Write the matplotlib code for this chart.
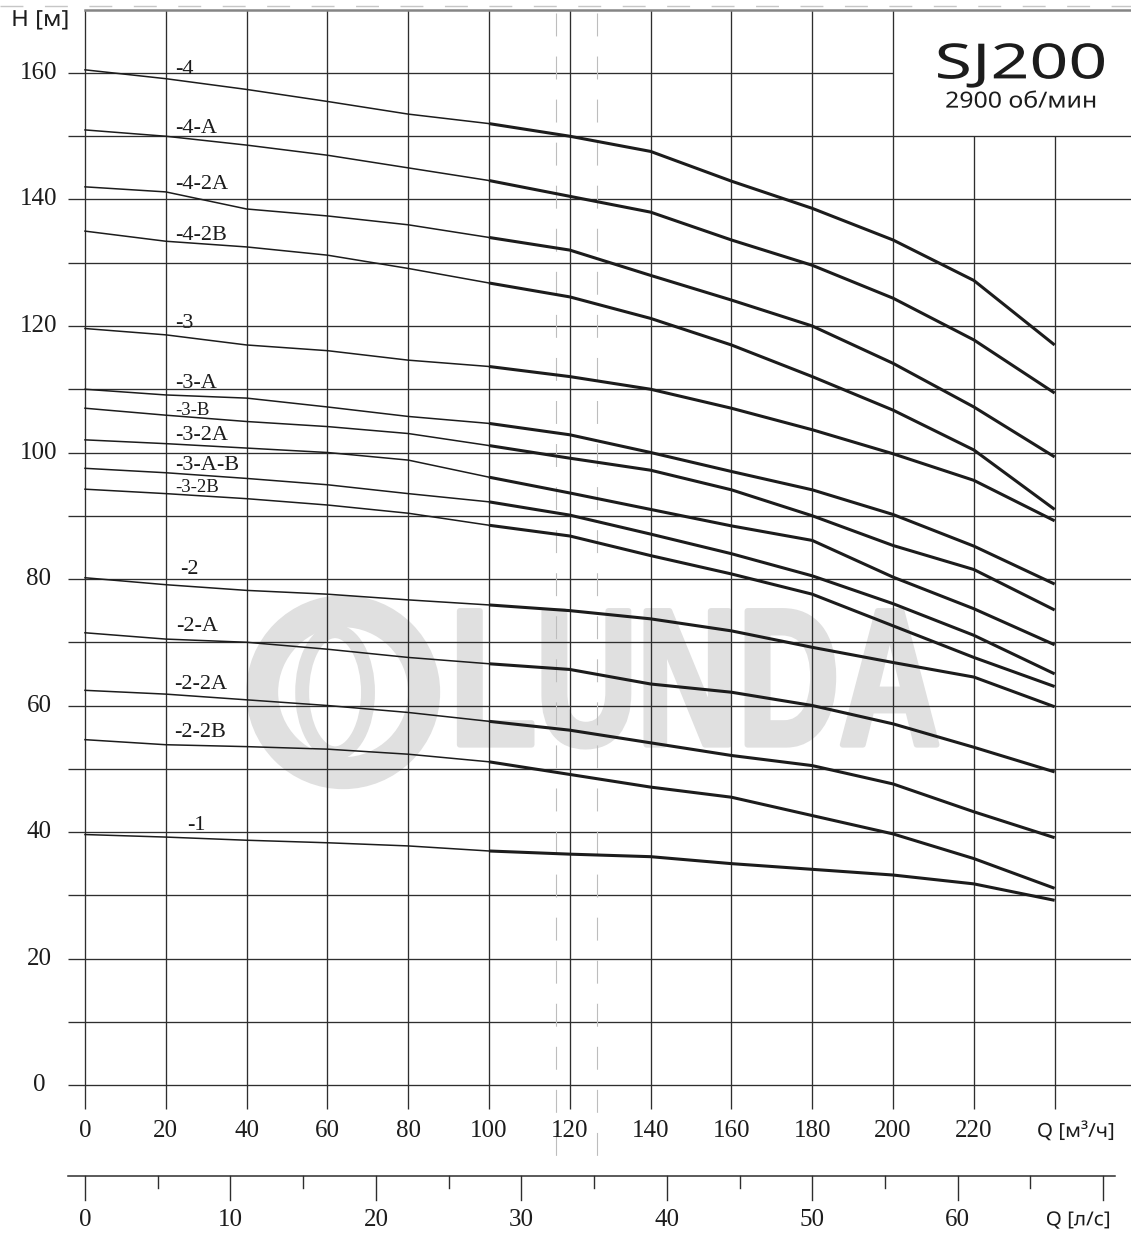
import numpy as np
import matplotlib
matplotlib.use("Agg")
import matplotlib.pyplot as plt
from matplotlib.patches import Ellipse
from matplotlib.patheffects import AbstractPathEffect
from matplotlib.transforms import Affine2D

plt.rcParams['lines.scale_dashes'] = False


class Stretched(AbstractPathEffect):
    """Растягивает (сжимает) текст по горизонтали вокруг его центра, по желанию с обводкой."""

    def __init__(self, sx=1.0, stroke=0.0):
        super().__init__()
        self._sx = sx
        self._stroke = stroke

    def draw_path(self, renderer, gc, tpath, affine, rgbFace=None):
        bb = tpath.get_extents(affine)
        cx = 0.5 * (bb.x0 + bb.x1)
        aff = affine + Affine2D().translate(-cx, 0).scale(self._sx, 1).translate(cx, 0)
        if self._stroke:
            gc0 = renderer.new_gc()
            gc0.copy_properties(gc)
            gc0.set_linewidth(renderer.points_to_pixels(self._stroke))
            gc0.set_foreground(rgbFace)
            gc0.set_joinstyle("round")
            renderer.draw_path(gc0, tpath, aff, rgbFace)
            gc0.restore()
        else:
            renderer.draw_path(gc, tpath, aff, rgbFace)


# подача, м3/ч
q = [0, 20, 40, 60, 80, 100, 120, 140, 160, 180, 200, 220, 240]

# напор, м
h_4 = [160.5, 159.1, 157.4, 155.5, 153.5, 152.0, 150.0, 147.6, 142.9, 138.6, 133.6, 127.2, 117.0]
h_4a = [151.0, 150.0, 148.6, 147.0, 145.0, 143.0, 140.5, 138.0, 133.6, 129.6, 124.4, 117.8, 109.4]
h_42a = [142.0, 141.2, 138.5, 137.4, 136.0, 134.0, 132.0, 128.0, 124.1, 120.0, 114.1, 107.2, 99.3]
h_42b = [135.0, 133.4, 132.5, 131.2, 129.1, 126.8, 124.6, 121.2, 117.0, 112.0, 106.7, 100.4, 91.0]
h_3 = [119.6, 118.6, 117.0, 116.1, 114.6, 113.6, 112.0, 110.0, 107.0, 103.6, 99.8, 95.6, 89.2]
h_3a = [110.0, 109.1, 108.6, 107.2, 105.7, 104.6, 102.8, 100.0, 97.0, 94.1, 90.2, 85.2, 79.2]
h_3b = [107.0, 105.9, 104.9, 104.1, 103.0, 101.1, 99.1, 97.2, 94.1, 90.0, 85.3, 81.5, 75.1]
h_32a = [102.0, 101.4, 100.7, 100.0, 98.8, 96.1, 93.6, 91.0, 88.4, 86.1, 80.3, 75.3, 69.6]
h_3ab = [97.5, 96.8, 95.9, 94.9, 93.5, 92.2, 90.1, 87.1, 84.0, 80.5, 76.1, 71.1, 65.0]
h_32b = [94.2, 93.5, 92.7, 91.7, 90.4, 88.5, 86.8, 83.7, 80.8, 77.6, 72.6, 67.6, 63.0]
h_2 = [80.2, 79.1, 78.2, 77.6, 76.7, 75.9, 75.0, 73.7, 71.8, 69.2, 66.8, 64.5, 59.8]
h_2a = [71.5, 70.5, 70.0, 68.9, 67.6, 66.6, 65.7, 63.4, 62.1, 60.0, 57.1, 53.4, 49.5]
h_22a = [62.4, 61.8, 60.9, 60.0, 58.9, 57.5, 56.1, 54.1, 52.1, 50.5, 47.6, 43.2, 39.1]
h_22b = [54.6, 53.8, 53.5, 53.1, 52.3, 51.1, 49.1, 47.1, 45.5, 42.6, 39.7, 35.8, 31.1]
h_1 = [39.6, 39.2, 38.7, 38.3, 37.8, 37.0, 36.5, 36.1, 35.0, 34.1, 33.2, 31.8, 29.2]

names = ["-4", "-4-A", "-4-2A", "-4-2B", "-3", "-3-A", "-3-B", "-3-2A",
         "-3-A-B", "-3-2B", "-2", "-2-A", "-2-2A", "-2-2B", "-1"]
heads = [h_4, h_4a, h_42a, h_42b, h_3, h_3a, h_3b, h_32a,
         h_3ab, h_32b, h_2, h_2a, h_22a, h_22b, h_1]

# где стоят подписи кривых (Q, H по базовой линии)
label_q = [22.3, 22.3, 22.3, 22.3, 22.3, 22.3, 22.3, 22.3,
           22.3, 22.3, 23.5, 22.5, 22.0, 22.0, 25.3]
label_h = [159.8, 150.5, 141.7, 133.6, 119.7, 110.2, 106.0, 101.9,
           97.3, 93.8, 80.8, 71.8, 62.6, 55.0, 40.3]
small_labels = {"-3-B", "-3-2B"}

y_ticks = [0, 20, 40, 60, 80, 100, 120, 140, 160]
x_ticks = [0, 20, 40, 60, 80, 100, 120, 140, 160, 180, 200, 220]
ls_ticks = [0, 10, 20, 30, 40, 50, 60]
ls_minor = [5, 15, 25, 35, 45, 55, 65]
duty_q = [116.5, 126.7]

SERIF = "Liberation Serif"
SANS = "Noto Sans"
INK = "#1c1c1c"
GRID = "#2e2e2e"

fig = plt.figure(figsize=(11.31, 12.36), dpi=100)
ax = fig.add_axes([0, 0, 1, 1])
x_left, x_right = -21.04, 258.9
ax.set_xlim(x_left, x_right)
ax.set_ylim(-23.87, 171.54)
ax.axis("off")

## водяной знак
wm = "#e0e0e0"
ax.add_patch(Ellipse((63.9, 62.1), 40.1, 25.6, fill=False, ec=wm, lw=23, zorder=0))
ax.add_patch(Ellipse((61.9, 62.1), 16.3, 19.3, fill=False, ec=wm, lw=10, zorder=0))
ax.text(150.8, 53.8, "LUNDA", fontsize=140, family="Liberation Sans", weight="bold",
        color=wm, ha="center", va="baseline", zorder=0,
        path_effects=[Stretched(0.72, stroke=3)])

## сетка
for hv in range(0, 170, 10):
    xr = 200 if hv == 160 else x_right
    ax.plot([-4.2, xr], [hv, hv], color=GRID, lw=0.95, zorder=1, solid_capstyle="butt")
for qv in range(0, 260, 20):
    top = 150 if qv >= 220 else 170
    ax.plot([qv, qv], [-3.8, top], color=GRID, lw=0.95, zorder=1, solid_capstyle="butt")

# верхняя рамка и пунктир над ней
ax.plot([0, x_right], [170, 170], color="#858585", lw=1.8, zorder=1)
ax.plot([x_left, x_right], [170.6, 170.6], color="#c6c6c6", lw=1.0,
        linestyle=(0, (16.5, 15.5)), zorder=1)

# рабочая зона
for qd in duty_q:
    ax.plot([qd, qd], [169.5, -13.4], color="#bdbdbd", lw=0.8,
            linestyle=(0, (16.5, 14.5)), zorder=1)

## кривые H(Q): тонкая до 100 м3/ч, жирная дальше
q_arr = np.array(q)
k = q.index(100)
for name, hh in zip(names, heads):
    hh = np.array(hh)
    ax.plot(q_arr[:k + 1], hh[:k + 1], color=INK, lw=1.1, zorder=3,
            solid_joinstyle="round")
    ax.plot(q_arr[k:], hh[k:], color=INK, lw=2.2, zorder=3,
            solid_joinstyle="round", solid_capstyle="butt")

for name, lq, lh in zip(names, label_q, label_h):
    fs = 13.5 if name in small_labels else 16
    ax.text(lq, lh, name, fontsize=fs, family=SERIF, color=INK,
            ha="left", va="baseline", zorder=4)

## подписи осей
for yv in y_ticks:
    ax.text(-11.4, yv, str(yv), fontsize=18, family=SERIF, color=INK,
            ha="center", va="center")
for xv in x_ticks:
    ax.text(xv, -7.3, str(xv), fontsize=18, family=SERIF, color=INK,
            ha="center", va="center")

ax.text(-11.1, 168.3, "H [м]", fontsize=16, family=SANS, color=INK,
        ha="center", va="center", path_effects=[Stretched(1.08)])
ax.text(245.2, -7.4, "Q [м³/ч]", fontsize=14, family=SANS, color=INK,
        ha="center", va="center", path_effects=[Stretched(1.06)])

# вторая шкала, л/с
y_ls = -14.4
ax.plot([-4.2, 255], [y_ls, y_ls], color=GRID, lw=1.1, zorder=1)
for lv in ls_ticks + [70]:
    ax.plot([lv * 3.6] * 2, [y_ls, y_ls - 3.8], color=GRID, lw=1.0)
for lv in ls_minor:
    ax.plot([lv * 3.6] * 2, [y_ls, y_ls - 1.9], color=GRID, lw=1.0)
for lv in ls_ticks:
    ax.text(lv * 3.6, -21.3, str(lv), fontsize=18, family=SERIF, color=INK,
            ha="center", va="center")
ax.text(245.8, -21.4, "Q [л/с]", fontsize=14, family=SANS, color=INK,
        ha="center", va="center", path_effects=[Stretched(1.06)])

## шапка
ax.text(231.7, 161.2, "SJ200", fontsize=35, family=SANS, weight="light", color=INK,
        ha="center", va="center", path_effects=[Stretched(1.4)])
ax.text(231.7, 155.4, "2900 об/мин", fontsize=16, family=SANS, color=INK,
        ha="center", va="center", path_effects=[Stretched(1.12)])

fig.savefig("out.png", dpi=100)
